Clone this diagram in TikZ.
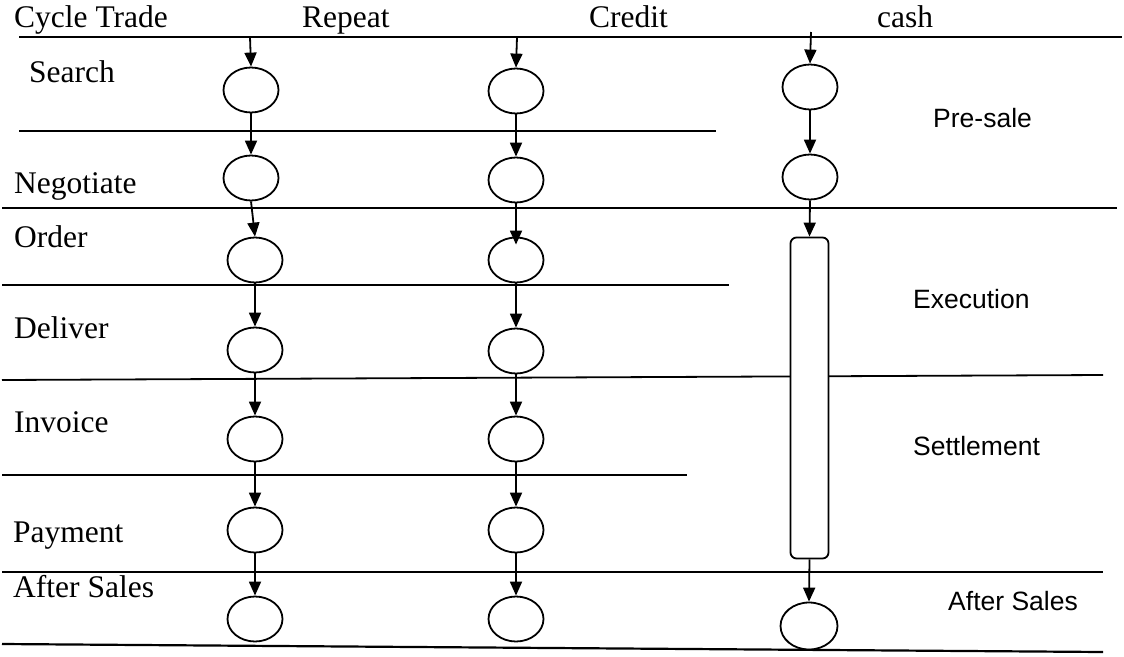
\documentclass[tikz,border=0pt]{standalone}
\usepackage{fontspec}
\setmainfont{Liberation Serif}
\newfontfamily\phasefont{Liberation Sans}
\usetikzlibrary{shapes.geometric,arrows.meta}

\begin{document}
\begin{tikzpicture}[x=1pt,y=-1pt,
  rule/.style={line width=1.8pt},
  stage/.style={ellipse,draw,line width=1.8pt,minimum width=55pt,minimum height=45pt,inner sep=0pt},
  flow/.style={line width=1.8pt,-{Triangle[length=14pt,width=12pt]}},
  lbl/.style={anchor=base west,inner sep=0pt,font=\fontsize{31.5}{36}\selectfont},
  phase/.style={anchor=base west,inner sep=0pt,font=\phasefont\fontsize{26.5}{30}\selectfont},
]
\useasboundingbox (0,0) rectangle (1124,656);

% column headings
\node[lbl] (hcycle)  at (14,27)  {Cycle Trade};
\node[lbl] (hrepeat) at (302,27) {Repeat};
\node[lbl] (hcredit) at (589,27) {Credit};
\node[lbl] (hcash)   at (877,27) {cash};

% row labels
\node[lbl] (lsearch) at (29,82)  {Search};
\node[lbl] (lneg)    at (14,193) {Negotiate};
\node[lbl] (lorder)  at (14,247) {Order};
\node[lbl] (ldel)    at (14,338) {Deliver};
\node[lbl] (linv)    at (14,432) {Invoice};
\node[lbl] (lpay)    at (13,542) {Payment};
\node[lbl] (lafter)  at (13,597) {After Sales};

% phase labels
\node[phase] (ppre)  at (933,127) {Pre-sale};
\node[phase] (pexe)  at (913,308) {Execution};
\node[phase] (pset)  at (913,455) {Settlement};
\node[phase] (paft)  at (948,610) {After Sales};

% row separators
\draw[rule] (19,37) -- (1122,37);
\draw[rule] (19,131) -- (716,131);
\draw[rule,line width=2.2pt] (2,208) -- (1117,208);
\draw[rule] (2,285) -- (729,285);
\draw[rule] (2,380) -- (1103,375);
\draw[rule] (2,475) -- (687,475);
\draw[rule] (2,572) -- (1103,572);
\draw[rule,line width=2.2pt] (2,644) -- (1103,652);

% repeat trade
\node[stage] (r1) at (251,90)  {};
\node[stage] (r2) at (251,178) {};
\node[stage] (r3) at (255,260) {};
\node[stage] (r4) at (255,350) {};
\node[stage] (r5) at (255,439) {};
\node[stage] (r6) at (255,530) {};
\node[stage] (r7) at (255,619) {};

% credit trade
\node[stage] (c1) at (516,91)  {};
\node[stage] (c2) at (516,180) {};
\node[stage] (c3) at (516,260) {};
\node[stage] (c4) at (516,351) {};
\node[stage] (c5) at (516,439) {};
\node[stage] (c6) at (516,530) {};
\node[stage] (c7) at (516,619) {};

% cash trade
\node[stage] (k1) at (810,87)  {};
\node[stage] (k2) at (810,177) {};
\node[draw,fill=white,rounded corners=6pt,line width=1.8pt,
      minimum width=38pt,minimum height=321pt,inner sep=0pt] (bar) at (809.5,398) {};
\node[stage,minimum width=57pt,minimum height=47pt] (k3) at (809,626) {};

% entry points on the top rule
\coordinate (in1) at (250,37);
\coordinate (in2) at (517,37);
\coordinate (in3) at (811,32);

% flows
\draw[flow] (in1) -- (r1.north);
\draw[flow] (r1.south) -- (r2.north);
\draw[flow] (r2.south) -- (r3.north);
\draw[flow] (r3.south) -- (r4.north);
\draw[flow] (r4.south) -- (r5.north);
\draw[flow] (r5.south) -- (r6.north);
\draw[flow] (r6.south) -- (r7.north);

\draw[flow] (in2) -- (c1.north);
\draw[flow] (c1.south) -- (c2.north);
\draw[flow,shorten >=-8pt] (c2.south) -- (c3.north);
\draw[flow] (c3.south) -- (c4.north);
\draw[flow] (c4.south) -- (c5.north);
\draw[flow] (c5.south) -- (c6.north);
\draw[flow] (c6.south) -- (c7.north);

\draw[flow] (in3) -- (k1.north);
\draw[flow] (k1.south) -- (k2.north);
\draw[flow] (k2.south) -- (bar.north);
\draw[flow] (bar.south) -- (k3.north);
\end{tikzpicture}
\end{document}
